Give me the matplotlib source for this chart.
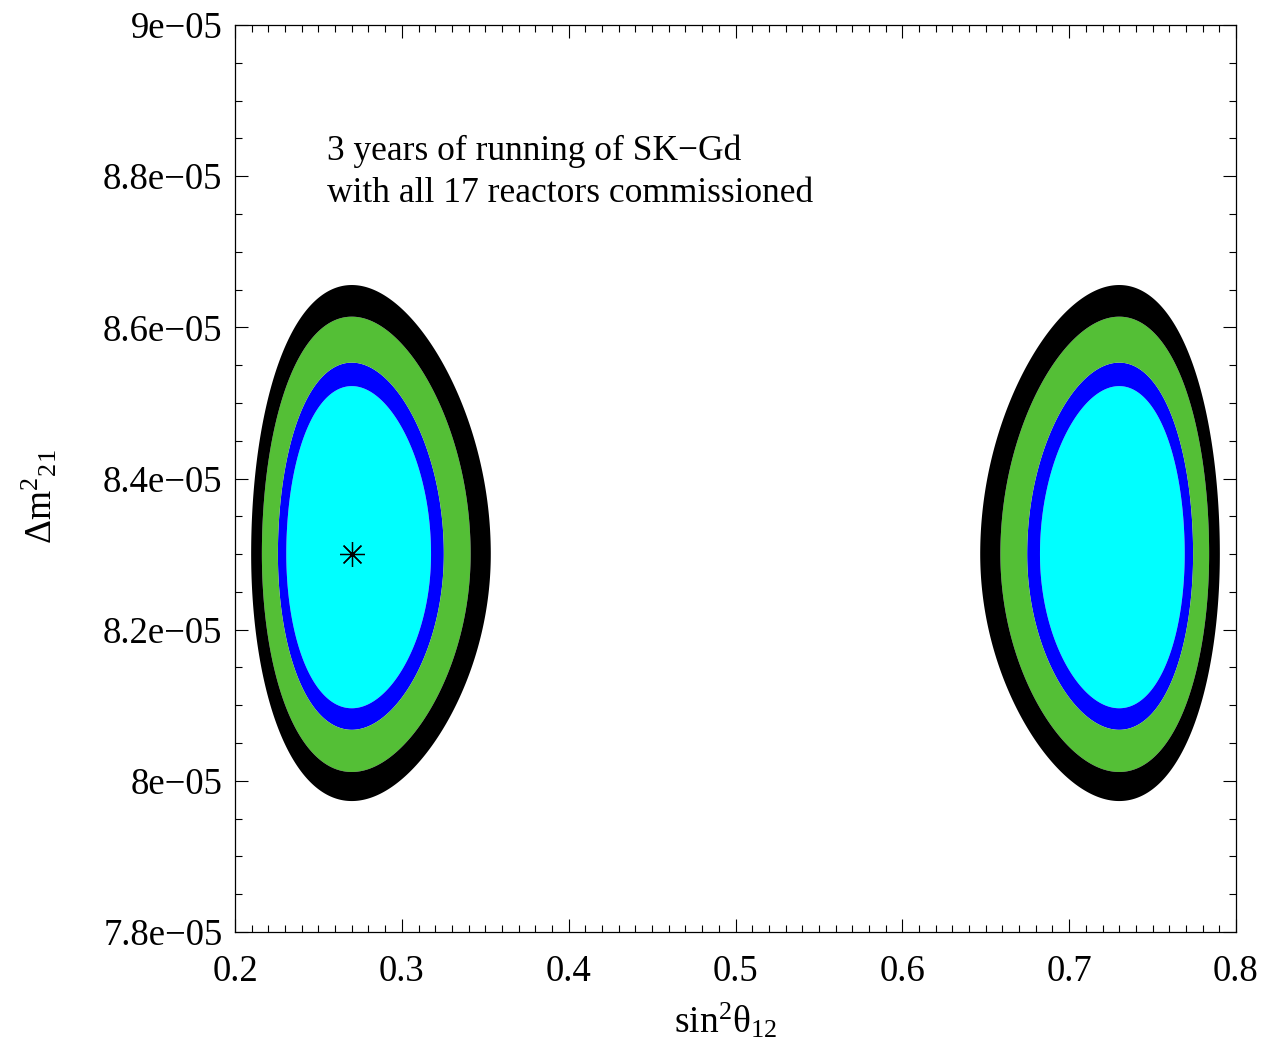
import numpy as np
import matplotlib
matplotlib.use("Agg")
import matplotlib.pyplot as plt
from matplotlib.ticker import FixedLocator, MultipleLocator, FuncFormatter

plt.rcParams['font.family'] = ['Liberation Serif', 'DejaVu Serif']
plt.rcParams['mathtext.fontset'] = 'custom'
plt.rcParams['mathtext.rm'] = 'Liberation Serif'
plt.rcParams['mathtext.it'] = 'Liberation Serif'

# best fit point and the mirror (sin^2 -> 1 - sin^2) solution
best_s12 = [0.27, 0.73]
best_dm21 = 8.3e-5

# widths of the Delta chi^2 surface
sigma_sin2_2theta = 0.0365      # in sin^2(2 theta12)
sigma_dm21_up = 0.1035e-5
sigma_dm21_down = 0.0950e-5

# 90%, 95%, 99%, 3 sigma for 2 dof
chi2_levels = [0.0, 4.61, 5.99, 9.21, 11.83]
level_colors = ['#00ffff', '#0000ff', '#54bf36', '#000000']

x_ticks = [0.2, 0.3, 0.4, 0.5, 0.6, 0.7, 0.8]
y_ticks = [7.8e-5, 8.0e-5, 8.2e-5, 8.4e-5, 8.6e-5, 8.8e-5, 9.0e-5]

note_lines = ['3 years of running of SK\u2212Gd',
              'with all 17 reactors commissioned']

fig = plt.figure(figsize=(12.64, 10.47), dpi=100)
ax = fig.add_axes([235 / 1264, 1 - 932 / 1047, 1001 / 1264, 907 / 1047])

s = np.linspace(0.2, 0.8, 1201)
dm = np.linspace(7.8e-5, 9.0e-5, 1201)
S, DM = np.meshgrid(s, dm)
t = 4 * S * (1 - S)
t0 = 4 * best_s12[0] * (1 - best_s12[0])
sig_dm = np.where(DM > best_dm21, sigma_dm21_up, sigma_dm21_down)
chi2 = ((t - t0) / sigma_sin2_2theta) ** 2 + ((DM - best_dm21) / sig_dm) ** 2

ax.contourf(S, DM, chi2, levels=chi2_levels, colors=level_colors, antialiased=True)

ax.plot(best_s12[0], best_dm21, marker=(8, 2, 0), markersize=18,
        color='black', markeredgewidth=0.9, linestyle='none')

for i, line in enumerate(note_lines):
    ax.text(0.092, 0.851 - i * 0.046, line, transform=ax.transAxes,
            fontsize=25.5, va='baseline', ha='left')

ax.set_xlim(0.2, 0.8)
ax.set_ylim(7.8e-5, 9.0e-5)
ax.xaxis.set_major_locator(FixedLocator(x_ticks))
ax.yaxis.set_major_locator(FixedLocator(y_ticks))
ax.xaxis.set_minor_locator(MultipleLocator(0.01))
ax.yaxis.set_minor_locator(MultipleLocator(0.05e-5))
ax.xaxis.set_major_formatter(FuncFormatter(lambda v, p: '%g' % v))
ax.yaxis.set_major_formatter(FuncFormatter(lambda v, p: ('%g' % v).replace('-', '\u2212')))

ax.tick_params(which='both', direction='in', top=True, right=True, width=0.8)
ax.tick_params(which='major', length=9.5, labelsize=26.5, pad=9)
ax.tick_params(axis='x', which='major', pad=16)
ax.tick_params(which='minor', length=5)
for sp in ax.spines.values():
    sp.set_linewidth(0.9)

ax.set_xlabel(r'$\mathrm{sin}^{2}\theta{}_{12}$', fontsize=27)
ax.set_ylabel(r'$\Delta\mathrm{m}^{2}{}_{21}$', fontsize=27)
ax.xaxis.set_label_coords(0.49, -0.076)
ax.yaxis.set_label_coords(-0.175, 0.48)

fig.savefig('out.png', dpi=100)
